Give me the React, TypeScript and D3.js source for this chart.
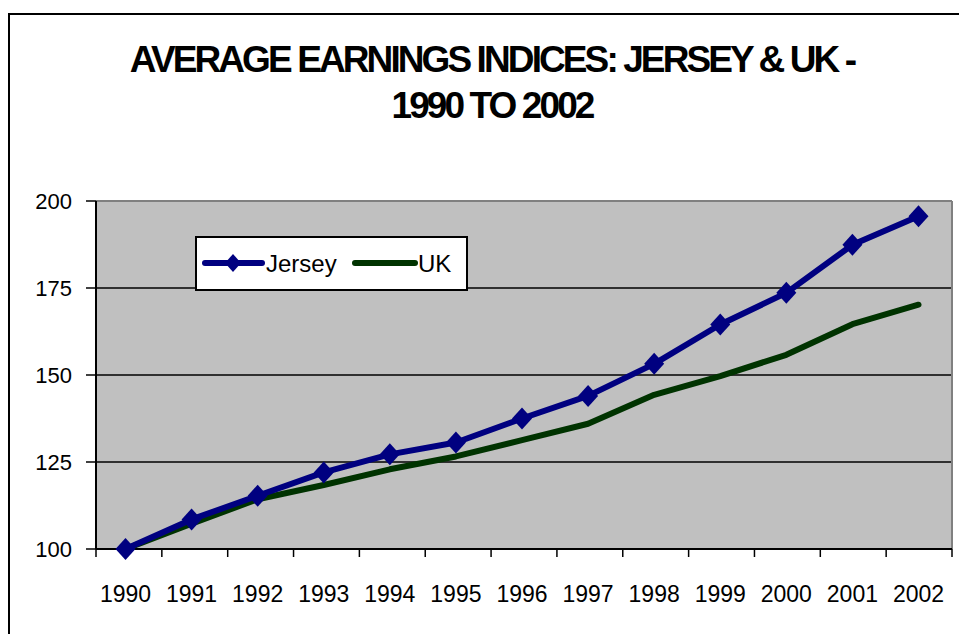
import * as d3 from "d3";

const years = ["1990", "1991", "1992", "1993", "1994", "1995", "1996", "1997", "1998", "1999", "2000", "2001", "2002"];
const jersey = [100, 108.5, 115.3, 122.0, 127.2, 130.6, 137.5, 144.0, 153.2, 164.5, 173.6, 187.4, 195.6];
const uk = [100, 107.3, 114.3, 118.4, 122.9, 126.6, 131.3, 136.0, 144.3, 149.7, 155.8, 164.6, 170.2];
const yTicks = [100, 125, 150, 175, 200];
const titleLines = ["AVERAGE EARNINGS INDICES: JERSEY & UK -", "1990 TO 2002"];

const W = 959;
const H = 634;
const left = 96;
const right = 952;
const top = 201;
const bottom = 549;
const font = "'Liberation Sans', Arial, sans-serif";

const App = () => {
  const xBand = d3.scaleBand<string>().domain(years).range([left, right]);
  const x = d3.scalePoint<string>().domain(years).range([125.5, 918.5]);
  const y = d3.scaleLinear().domain([100, 200]).range([bottom, top]);

  const line = d3
    .line<number>()
    .x((_, i) => x(years[i])!)
    .y((d) => y(d));

  const diamond = "M0,-11L10,0L0,11L-10,0Z";
  const smallDiamond = "M0,-9L8,0L0,9L-8,0Z";

  return (
    <div style={{ position: "absolute", left: 0, top: 0, width: W, height: H, overflow: "hidden", background: "#fff" }}>
      <svg width={W} height={H} style={{ display: "block", fontFamily: font }}>
        {/* chart frame, runs off the page right and bottom */}
        <rect x={9} y={14} width={1200} height={1200} fill="#fff" stroke="#000" strokeWidth={2} />

        {/* title, tight letter spacing like the original */}
        <text x={492} y={72} textAnchor="middle" fontSize={37} fontWeight="bold" letterSpacing={-2.9}>
          {titleLines[0]}
        </text>
        <text x={492} y={118} textAnchor="middle" fontSize={37} fontWeight="bold" letterSpacing={-2.9}>
          {titleLines[1]}
        </text>

        {/* plot area */}
        <rect x={left} y={top} width={right - left} height={bottom - top} fill="#c0c0c0" />
        {yTicks.slice(1, -1).map((t) => (
          <line key={t} x1={left} x2={right} y1={y(t)} y2={y(t)} stroke="#000" strokeWidth={1.5} />
        ))}
        <line x1={left} x2={right} y1={top} y2={top} stroke="#808080" strokeWidth={2} />
        <line x1={right} x2={right} y1={top} y2={bottom} stroke="#808080" strokeWidth={2} />

        {/* y axis */}
        <line x1={left} x2={left} y1={top} y2={bottom} stroke="#000" strokeWidth={2} />
        {yTicks.map((t) => (
          <g key={t}>
            <line x1={left - 10} x2={left} y1={y(t)} y2={y(t)} stroke="#000" strokeWidth={1.5} />
            <text x={72} y={y(t)} textAnchor="end" dominantBaseline="central" fontSize={22}>
              {t}
            </text>
          </g>
        ))}

        {/* x axis */}
        <line x1={left} x2={right} y1={bottom} y2={bottom} stroke="#000" strokeWidth={2} />
        {years.map((yr) => (
          <line key={"t" + yr} x1={xBand(yr)!} x2={xBand(yr)!} y1={bottom} y2={bottom + 8} stroke="#000" strokeWidth={1.5} />
        ))}
        <line x1={right} x2={right} y1={bottom} y2={bottom + 8} stroke="#000" strokeWidth={1.5} />
        {years.map((yr) => (
          <text key={"l" + yr} x={x(yr)!} y={602} textAnchor="middle" fontSize={23}>
            {yr}
          </text>
        ))}

        {/* series */}
        <path d={line(uk)!} fill="none" stroke="#003300" strokeWidth={6} strokeLinejoin="round" strokeLinecap="round" />
        <path d={line(jersey)!} fill="none" stroke="#000080" strokeWidth={6} strokeLinejoin="round" strokeLinecap="round" />
        {jersey.map((v, i) => (
          <path key={i} d={diamond} transform={`translate(${x(years[i])},${y(v)})`} fill="#000080" />
        ))}

        {/* legend */}
        <rect x={196} y={237} width={271} height={53} fill="#fff" stroke="#000" strokeWidth={2} />
        <line x1={205} x2={262} y1={263} y2={263} stroke="#000080" strokeWidth={6} strokeLinecap="round" />
        <path d={smallDiamond} transform="translate(233,263)" fill="#000080" />
        <text x={266} y={263} dominantBaseline="central" fontSize={24}>
          Jersey
        </text>
        <line x1={355} x2={415} y1={263} y2={263} stroke="#003300" strokeWidth={6} strokeLinecap="round" />
        <text x={418} y={263} dominantBaseline="central" fontSize={24}>
          UK
        </text>
      </svg>
    </div>
  );
};

export default App;
